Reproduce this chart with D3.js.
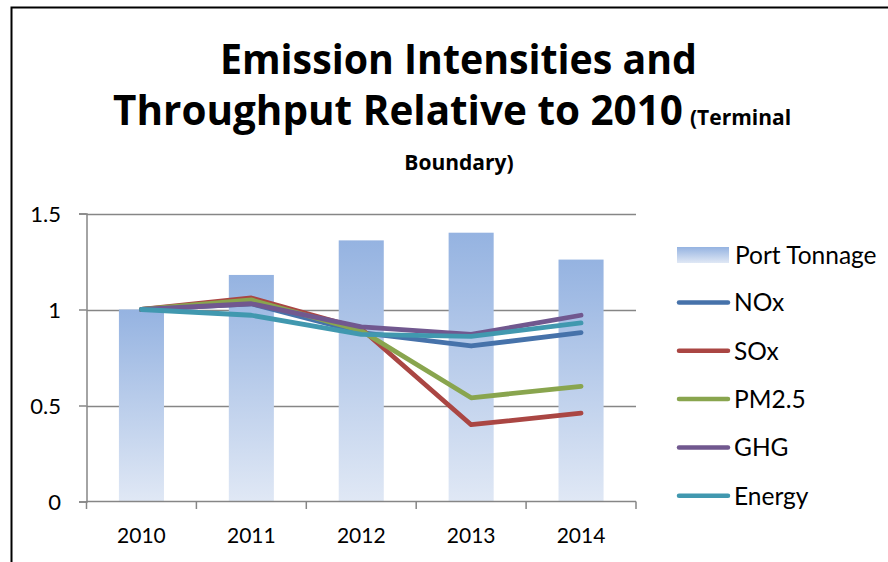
<!DOCTYPE html>
<html>
<head>
<meta charset="utf-8">
<script src="https://cdn.jsdelivr.net/npm/d3@7"></script>
<style>
  html, body { margin: 0; padding: 0; background: #fff; }
  svg { display: block; }
  text { font-family: Lato, "Open Sans", sans-serif; fill: #000; }
  .title { font-family: "Open Sans", Lato, sans-serif; font-weight: bold; }
</style>
</head>
<body>
<svg id="chart" width="888" height="562"></svg>
<script>
// ---- Data ----
const years = ["2010", "2011", "2012", "2013", "2014"];
const portTonnage = [1.00, 1.18, 1.36, 1.40, 1.26];
const nox    = [1.00, 1.03, 0.88, 0.81, 0.88];
const sox    = [1.00, 1.06, 0.90, 0.40, 0.46];
const pm25   = [1.00, 1.05, 0.89, 0.54, 0.60];
const ghg    = [1.00, 1.03, 0.91, 0.87, 0.97];
const energy = [1.00, 0.97, 0.87, 0.86, 0.93];
const yTicks = [0, 0.5, 1, 1.5];
const yTickLabels = ["0", "0.5", "1", "1.5"];
const lineNames = ["NOx", "SOx", "PM2.5", "GHG", "Energy"];
const lineColors = ["#4672AA", "#AA4643", "#89A54E", "#71588F", "#4198AF"];
const barName = "Port Tonnage";

const lineSeries = [nox, sox, pm25, ghg, energy].map((v, i) => ({
  name: lineNames[i], color: lineColors[i], values: v
}));

// ---- Layout ----
const svg = d3.select("#chart");
const plot = { left: 86.5, right: 636, top: 213.5, bottom: 501.5 };

const x = d3.scaleBand().domain(years).range([plot.left, plot.right])
  .paddingInner(0.59).paddingOuter(0.295);
const xc = d => x(d) + x.bandwidth() / 2;
const y = d3.scaleLinear().domain([0, 1.5]).range([plot.bottom, plot.top]);

// outer frame (left + top only visible)
svg.append("path")
  .attr("d", "M11.5,562 L11.5,7.5 L888,7.5")
  .attr("fill", "none").attr("stroke", "#000").attr("stroke-width", 2);

// gradient for bars
const defs = svg.append("defs");
[["barGrad"], ["legGrad"]].forEach(([id]) => {
  const g = defs.append("linearGradient").attr("id", id)
    .attr("x1", 0).attr("y1", 0).attr("x2", 0).attr("y2", 1);
  g.append("stop").attr("offset", "0%").attr("stop-color", "#95B3E1");
  g.append("stop").attr("offset", "100%").attr("stop-color", "#E0E8F5");
});

// gridlines
svg.append("g").selectAll("line").data(yTicks.filter(d => d > 0)).join("line")
  .attr("x1", plot.left).attr("x2", plot.right)
  .attr("y1", d => Math.round(y(d)) + 0.5).attr("y2", d => Math.round(y(d)) + 0.5)
  .attr("stroke", "#868686").attr("stroke-width", 1.5);

// bars
svg.append("g").selectAll("rect").data(years).join("rect")
  .attr("x", d => x(d))
  .attr("width", x.bandwidth())
  .attr("y", (d, i) => y(portTonnage[i]))
  .attr("height", (d, i) => plot.bottom - y(portTonnage[i]))
  .attr("fill", "url(#barGrad)");

// y axis
const yAxis = d3.axisLeft(y).tickValues(yTicks)
  .tickFormat((d, i) => yTickLabels[i]).tickSize(7.5).tickPadding(18);
const gy = svg.append("g").attr("transform", `translate(${plot.left},0)`).call(yAxis);
gy.select(".domain").attr("stroke", "#868686").attr("stroke-width", 1.5);
gy.selectAll(".tick line").attr("stroke", "#868686").attr("stroke-width", 1.5);
gy.selectAll(".tick text").style("font-family", "Lato, sans-serif")
  .style("font-size", "22px").attr("fill", "#000").attr("dy", "0.36em");

// x axis: line at bottom, ticks at category boundaries
const gx = svg.append("g");
gx.append("line").attr("x1", plot.left).attr("x2", plot.right)
  .attr("y1", plot.bottom).attr("y2", plot.bottom)
  .attr("stroke", "#868686").attr("stroke-width", 1.5);
const step = x.step();
const boundaries = d3.range(years.length + 1).map(i => plot.left + i * step);
gx.selectAll("line.tk").data(boundaries).join("line").attr("class", "tk")
  .attr("x1", d => d).attr("x2", d => d)
  .attr("y1", plot.bottom).attr("y2", plot.bottom + 7.5)
  .attr("stroke", "#868686").attr("stroke-width", 1.5);
gx.selectAll("text").data(years).join("text")
  .attr("x", d => xc(d)).attr("y", 543)
  .attr("text-anchor", "middle").style("font-size", "21px").text(d => d);

// lines
const lineGen = d3.line().x((d, i) => xc(years[i])).y(d => y(d));
svg.append("g").selectAll("path").data(lineSeries).join("path")
  .attr("d", d => lineGen(d.values))
  .attr("fill", "none").attr("stroke", d => d.color)
  .attr("stroke-width", 4.8).attr("stroke-linejoin", "round").attr("stroke-linecap", "round");

// legend
const leg = svg.append("g");
leg.append("rect").attr("x", 677).attr("y", 247).attr("width", 52).attr("height", 16)
  .attr("fill", "url(#legGrad)");
leg.append("text").attr("x", 735).attr("y", 255).attr("dy", "0.36em")
  .style("font-size", "24.5px").text(barName);
const legY0 = 302.5, legStep = 48.3;
lineSeries.forEach((s, i) => {
  const yy = legY0 + i * legStep;
  leg.append("line").attr("x1", 679).attr("x2", 728).attr("y1", yy).attr("y2", yy)
    .attr("stroke", s.color).attr("stroke-width", 4.5).attr("stroke-linecap", "round");
  leg.append("text").attr("x", 734).attr("y", yy).attr("dy", "0.36em")
    .style("font-size", "24.5px").text(s.name);
});

// title
const t1 = svg.append("text").attr("class", "title").attr("x", 458.5).attr("y", 74)
  .attr("text-anchor", "middle").style("font-size", "41px").text("Emission Intensities and");
const t2 = svg.append("text").attr("class", "title").attr("x", 398).attr("y", 125)
  .attr("text-anchor", "middle").style("font-size", "41px").text("Throughput Relative to 2010");
svg.append("text").attr("class", "title").attr("x", 690).attr("y", 125)
  .attr("text-anchor", "start").style("font-size", "21px").text("(Terminal");
svg.append("text").attr("class", "title").attr("x", 459).attr("y", 170)
  .attr("text-anchor", "middle").style("font-size", "21px").text("Boundary)");

// fit main title line widths to reference
function fit(sel, w) {
  sel.attr("textLength", w).attr("lengthAdjust", "spacingAndGlyphs");
}
fit(t1, 477); fit(t2, 570);
</script>
</body>
</html>
